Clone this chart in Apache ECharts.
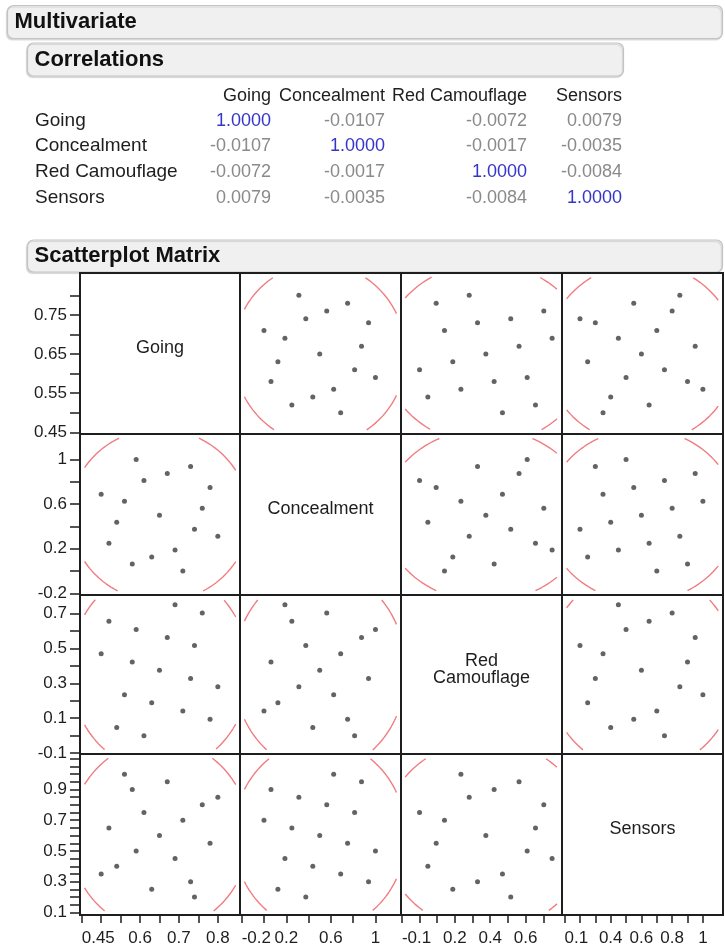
<!DOCTYPE html>
<html>
<head>
<meta charset="utf-8">
<script src="https://cdn.jsdelivr.net/npm/echarts@6/dist/echarts.min.js"></script>
<style>
  html, body { margin: 0; padding: 0; background: #ffffff; }
  #chart { width: 725px; height: 951px; }
</style>
</head>
<body>
<div id="chart"></div>
<script>
// Factor names, in matrix order
const variables = ['Going', 'Concealment', 'Red Camouflage', 'Sensors'];
const diagonalTitles = ['Going', 'Concealment', 'Red\nCamouflage', 'Sensors'];

// 17 design runs
const going         = [0.50, 0.52, 0.54, 0.56, 0.58, 0.59, 0.61, 0.63, 0.65, 0.67, 0.69, 0.71, 0.73, 0.74, 0.76, 0.78, 0.80];
const concealment   = [0.688, 0.250, 0.438, 0.625, 0.063, 1.000, 0.813, 0.125, 0.500, 0.875, 0.188, 0.000, 0.938, 0.375, 0.563, 0.750, 0.313];
const redCamouflage = [0.469, 0.656, 0.047, 0.234, 0.422, 0.609, 0.000, 0.188, 0.375, 0.563, 0.750, 0.141, 0.328, 0.516, 0.703, 0.094, 0.281];
const sensors       = [0.35, 0.65, 0.40, 1.00, 0.90, 0.50, 0.75, 0.25, 0.60, 0.95, 0.45, 0.70, 0.30, 0.20, 0.80, 0.55, 0.85];

// Correlation table rows
const corrGoing       = [1.0000, -0.0107, -0.0072, 0.0079];
const corrConcealment = [-0.0107, 1.0000, -0.0017, -0.0035];
const corrRed         = [-0.0072, -0.0017, 1.0000, -0.0084];
const corrSensors     = [0.0079, -0.0035, -0.0084, 1.0000];

// Axis ranges per factor
const axisMin = [0.4456, -0.215, -0.105, 0.083];
const axisMax = [0.857, 1.229, 0.806, 1.131];

// Tick marks and tick labels (left axes)
const yTicksGoing   = [0.45, 0.5, 0.55, 0.6, 0.65, 0.7, 0.75, 0.8];
const yTicksConceal = [-0.2, 0, 0.2, 0.4, 0.6, 0.8, 1];
const yTicksRed     = [-0.1, 0, 0.1, 0.2, 0.3, 0.4, 0.5, 0.6, 0.7];
const yTicksSensors = [0.1, 0.15, 0.2, 0.25, 0.3, 0.35, 0.4, 0.45, 0.5, 0.55, 0.6, 0.65, 0.7, 0.75, 0.8, 0.85, 0.9, 0.95, 1, 1.05, 1.1];
const yLabelsGoing   = [0.45, 0.55, 0.65, 0.75];
const yLabelsConceal = [-0.2, 0.2, 0.6, 1];
const yLabelsRed     = [-0.1, 0.1, 0.3, 0.5, 0.7];
const yLabelsSensors = [0.1, 0.3, 0.5, 0.7, 0.9];

// Tick marks and tick labels (bottom axes)
const xTicksGoing   = [0.45, 0.5, 0.55, 0.6, 0.65, 0.7, 0.75, 0.8];
const xTicksConceal = [-0.2, 0, 0.2, 0.4, 0.6, 0.8, 1];
const xTicksRed     = [-0.1, 0, 0.1, 0.2, 0.3, 0.4, 0.5, 0.6, 0.7];
const xTicksSensors = [0.1, 0.2, 0.3, 0.4, 0.5, 0.6, 0.7, 0.8, 0.9, 1];
const xLabelsGoing   = [0.45, 0.6, 0.7, 0.8];
const xLabelsConceal = [-0.2, 0.2, 0.6, 1];
const xLabelsRed     = [-0.1, 0.2, 0.4, 0.6];
const xLabelsSensors = [0.1, 0.4, 0.6, 0.8, 1];

const columns = [going, concealment, redCamouflage, sensors];
const corrTable = [corrGoing, corrConcealment, corrRed, corrSensors];
const yTicks = [yTicksGoing, yTicksConceal, yTicksRed, yTicksSensors];
const yLabels = [yLabelsGoing, yLabelsConceal, yLabelsRed, yLabelsSensors];
const xTicks = [xTicksGoing, xTicksConceal, xTicksRed, xTicksSensors];
const xLabels = [xLabelsGoing, xLabelsConceal, xLabelsRed, xLabelsSensors];

// Layout of the matrix cells (pixels)
const colEdges = [80, 240, 401, 562, 723];
const rowEdges = [273, 434, 595, 754, 915];

const FONT = '"Liberation Sans", Arial, sans-serif';
const INK = '#1e1e1e';

function mean(a) { return a.reduce((s, v) => s + v, 0) / a.length; }
function sd(a) { const m = mean(a); return Math.sqrt(a.reduce((s, v) => s + (v - m) * (v - m), 0) / (a.length - 1)); }
function corr(a, b) {
  const ma = mean(a), mb = mean(b);
  let s = 0; for (let i = 0; i < a.length; i++) s += (a[i] - ma) * (b[i] - mb);
  return s / (a.length - 1) / (sd(a) * sd(b));
}

// 95% bivariate normal density ellipse, cut a few pixels inside the cell frame
function densityEllipse(xi, yi, cellW, cellH) {
  const xs = columns[xi], ys = columns[yi];
  const mx = mean(xs), my = mean(ys), sx = sd(xs), sy = sd(ys), rho = corr(xs, ys);
  const k = Math.sqrt(-2 * Math.log(0.05));
  const inset = 4;
  const dx = inset / cellW * (axisMax[xi] - axisMin[xi]);
  const dy = inset / cellH * (axisMax[yi] - axisMin[yi]);
  const pts = [];
  const steps = 360;
  for (let s = 0; s <= steps; s++) {
    const t = 2 * Math.PI * s / steps;
    const x = mx + k * sx * Math.cos(t);
    const y = my + k * sy * (rho * Math.cos(t) + Math.sqrt(1 - rho * rho) * Math.sin(t));
    const inside = x > axisMin[xi] + dx && x < axisMax[xi] - dx && y > axisMin[yi] + dy && y < axisMax[yi] - dy;
    pts.push(inside ? [x, y] : [NaN, NaN]);
  }
  return pts;
}

const grids = [], xAxes = [], yAxes = [], series = [], graphics = [];

for (let r = 0; r < 4; r++) {
  for (let c = 0; c < 4; c++) {
    const idx = r * 4 + c;
    const left = colEdges[c], top = rowEdges[r];
    const w = colEdges[c + 1] - left, h = rowEdges[r + 1] - top;
    grids.push({ left, top, width: w, height: h, show: true, borderColor: INK, borderWidth: 2, backgroundColor: 'transparent' });

    const showX = r === 3, showY = c === 0;
    xAxes.push({
      gridIndex: idx, type: 'value', min: axisMin[c], max: axisMax[c],
      show: showX,
      axisLine: { show: true, onZero: false, lineStyle: { color: INK, width: 2 } },
      axisTick: { show: true, length: 8, customValues: xTicks[c], lineStyle: { color: INK, width: 1.5 } },
      axisLabel: { show: true, customValues: xLabels[c], fontSize: 17, fontFamily: FONT, color: INK, margin: 15,
                   alignMinLabel: 'left', formatter: v => String(v) },
      splitLine: { show: false }
    });
    yAxes.push({
      gridIndex: idx, type: 'value', min: axisMin[r], max: axisMax[r],
      show: showY,
      axisLine: { show: true, onZero: false, lineStyle: { color: INK, width: 2 } },
      axisTick: { show: true, length: 10, customValues: yTicks[r], lineStyle: { color: INK, width: 1.5 } },
      axisLabel: { show: true, customValues: yLabels[r], fontSize: 17, fontFamily: FONT, color: INK, margin: 13,
                   formatter: v => String(v) },
      splitLine: { show: false }
    });

    if (r === c) {
      graphics.push({
        type: 'text', x: left + w / 2, y: top + h / 2 - 5, silent: true,
        style: { text: diagonalTitles[r], fill: INK, font: '18px ' + FONT, fontSize: 18, fontFamily: FONT,
                 textAlign: 'center', textVerticalAlign: 'middle', align: 'center', verticalAlign: 'middle', lineHeight: 17 }
      });
      continue;
    }

    series.push({
      type: 'line', xAxisIndex: idx, yAxisIndex: idx, silent: true, animation: false,
      showSymbol: false, symbol: 'none', connectNulls: false, clip: true,
      lineStyle: { color: '#f07c80', width: 1.4 },
      data: densityEllipse(c, r, w, h)
    });
    series.push({
      type: 'scatter', xAxisIndex: idx, yAxisIndex: idx, silent: true, animation: false,
      symbol: 'circle', symbolSize: 5,
      itemStyle: { color: '#3c3c3c' },
      data: columns[c].map((v, i) => [v, columns[r][i]])
    });
  }
}

// Outline header bars
function headerBar(x, y, w, h, title) {
  graphics.push({
    type: 'rect', silent: true, z: -1,
    shape: { x, y, width: w, height: h, r: 6 },
    style: { fill: '#f0f0f0', stroke: '#c3c3c3', lineWidth: 1.2, shadowColor: 'rgba(0,0,0,0.12)', shadowOffsetX: -1, shadowOffsetY: 1.5, shadowBlur: 1 }
  });
  graphics.push({
    type: 'text', x: x + 7, y: y + h / 2, silent: true,
    style: { text: title, fill: '#111', font: 'bold 22px ' + FONT, textAlign: 'left', textVerticalAlign: 'middle', align: 'left', verticalAlign: 'middle' }
  });
}
headerBar(7.5, 5.5, 715, 33, 'Multivariate');
headerBar(27.5, 43, 596, 33, 'Correlations');
headerBar(27.5, 240, 695, 32, 'Scatterplot Matrix');

// Correlation table
const tableRight = [271, 385, 527, 622];
const headerY = 96;
const rowY = [121, 146, 172, 198];
variables.forEach((name, j) => {
  graphics.push({
    type: 'text', x: tableRight[j], y: headerY, silent: true,
    style: { text: name, fill: INK, font: '18px ' + FONT, textAlign: 'right', textVerticalAlign: 'middle', align: 'right', verticalAlign: 'middle' }
  });
});
corrTable.forEach((row, i) => {
  graphics.push({
    type: 'text', x: 35, y: rowY[i], silent: true,
    style: { text: variables[i], fill: INK, font: '19px ' + FONT, textAlign: 'left', textVerticalAlign: 'middle', align: 'left', verticalAlign: 'middle' }
  });
  row.forEach((v, j) => {
    graphics.push({
      type: 'text', x: tableRight[j], y: rowY[i], silent: true,
      style: { text: v.toFixed(4), fill: i === j ? '#3535c8' : '#8a8a8a', font: '18px ' + FONT,
               textAlign: 'right', textVerticalAlign: 'middle', align: 'right', verticalAlign: 'middle' }
    });
  });
});

const chart = echarts.init(document.getElementById('chart'), null, { renderer: 'canvas' });
chart.setOption({
  backgroundColor: '#ffffff',
  animation: false,
  grid: grids,
  xAxis: xAxes,
  yAxis: yAxes,
  series: series,
  graphic: graphics
});
</script>
</body>
</html>
